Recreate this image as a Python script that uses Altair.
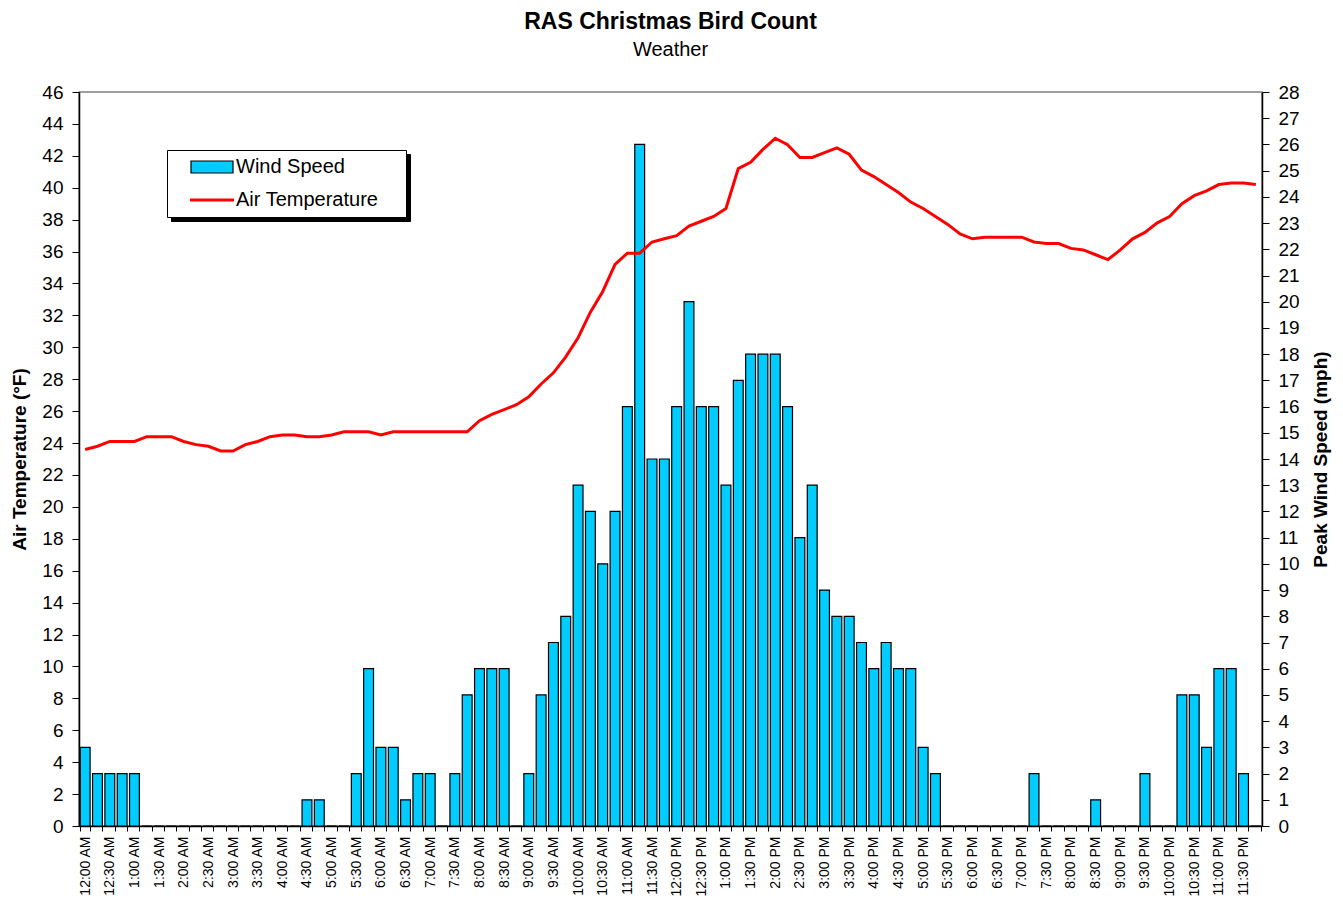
import altair as alt
import pandas as pd

# 15-minute time slots (categories)
times = [f"{(h % 12) or 12}:{m:02d} {'AM' if h < 12 else 'PM'}"
         for h in range(24) for m in (0, 15, 30, 45)]

# Peak wind speed (mph) per slot
wind_speed = [3, 2, 2, 2, 2, 0, 0, 0, 0, 0, 0, 0, 0, 0, 0, 0, 0, 0, 1, 1,
              0, 0, 2, 6, 3, 3, 1, 2, 2, 0, 2, 5, 6, 6, 6, 0, 2, 5, 7, 8,
              13, 12, 10, 12, 16, 26, 14, 14, 16, 20, 16, 16, 13, 17, 18, 18, 18, 16, 11, 13,
              9, 8, 8, 7, 6, 7, 6, 6, 3, 2, 0, 0, 0, 0, 0, 0, 0, 2, 0, 0,
              0, 0, 1, 0, 0, 0, 2, 0, 0, 5, 5, 3, 6, 6, 2, 0]

# Air temperature (F) per slot
air_temp = [23.6, 23.8, 24.1, 24.1, 24.1, 24.4, 24.4, 24.4, 24.1, 23.9,
            23.8, 23.5, 23.5, 23.9, 24.1, 24.4, 24.5, 24.5, 24.4, 24.4,
            24.5, 24.7, 24.7, 24.7, 24.5, 24.7, 24.7, 24.7, 24.7, 24.7,
            24.7, 24.7, 25.4, 25.8, 26.1, 26.4, 26.9, 27.7, 28.4, 29.4,
            30.6, 32.2, 33.5, 35.2, 35.9, 35.9, 36.6, 36.8, 37.0, 37.6,
            37.9, 38.2, 38.7, 41.2, 41.6, 42.4, 43.1, 42.7, 41.9, 41.9,
            42.2, 42.5, 42.1, 41.1, 40.7, 40.2, 39.7, 39.1, 38.7, 38.2,
            37.7, 37.1, 36.8, 36.9, 36.9, 36.9, 36.9, 36.6, 36.5, 36.5,
            36.2, 36.1, 35.8, 35.5, 36.1, 36.8, 37.2, 37.8, 38.2, 39.0,
            39.5, 39.8, 40.2, 40.3, 40.3, 40.2]

series_names = ["Wind Speed", "Air Temperature"]
series_colors = ["#00CCFF", "#FF0000"]
temp_ticks = list(range(0, 47, 2))
wind_ticks = list(range(0, 29))

df = pd.DataFrame({"time": times, "wind": wind_speed, "temp": air_temp,
                   "series": series_names[0], "series_t": series_names[1]})

FONT = "Liberation Sans"
W, H = 1183, 734

label_expr = ("indexof(datum.label, ':15') >= 0 || indexof(datum.label, ':45') >= 0"
              " ? '' : datum.label")

x_enc = alt.X(
    "time:N", sort=times,
    scale=alt.Scale(domain=times, paddingInner=0.2, paddingOuter=0.1),
    axis=alt.Axis(title=None, values=times, labelExpr=label_expr, labelAngle=270,
                  labelFont=FONT, labelFontSize=14, labelColor="black",
                  labelPadding=5, labelOverlap=False, tickBand="extent",
                  tickSize=5, tickColor="black", tickWidth=1,
                  domainColor="black", domainWidth=1.5, grid=False),
)

# main legend box (symbol paths carry a zero-length tail that widens the box)
legend_main = alt.Legend(
    title=None, orient="none", direction="vertical", padding=7,
    legendX=88, legendY=58, strokeColor="black", fillColor="white", zindex=2,
    symbolSize=100,
    symbolType={"expr": "datum.value == 'Wind Speed' ? "
                        "'M-4.2,-1.2H4.2V1.2H-4.2ZM36.2,0L36.2,0' : 'M-4.4,0H4.4M36.2,0L36.2,0'"},
    symbolStrokeColor={"expr": "datum.value == 'Wind Speed' ? 'black' : '#FF0000'"},
    symbolStrokeWidth={"expr": "datum.value == 'Wind Speed' ? 1.2 : 3"},
    symbolOffset=28, labelOffset=14, rowPadding=13,
    labelFont=FONT, labelFontSize=20, labelLimit=400, labelColor="black",
)

# drop shadow behind the legend box
legend_shadow = alt.Legend(
    title=None, orient="none", direction="vertical", padding=7,
    legendX=92, legendY=62, strokeColor="black", fillColor="black", zindex=1,
    symbolSize=100, symbolType="M-2,-1.9H43.4V1.9H-2Z",
    symbolStrokeColor="black", symbolFillColor="black", symbolStrokeWidth=1,
    symbolOffset=0, labelOffset=0, rowPadding=13,
    labelExpr="''", labelFontSize=1,
)

bars = alt.Chart(df).mark_bar(stroke="black", strokeWidth=1.2).encode(
    x=x_enc,
    y=alt.Y("wind:Q", scale=alt.Scale(domain=[0, 28], nice=False, zero=True),
            axis=alt.Axis(orient="right", values=wind_ticks,
                          title="Peak Wind Speed (mph)", titleAngle=270,
                          titleBaseline="top",
                          titleFont=FONT, titleFontSize=19, titleFontWeight="bold",
                          titleColor="black", titlePadding=12,
                          labelFont=FONT, labelFontSize=19, labelColor="black",
                          labelPadding=9, tickSize=7, tickColor="black",
                          domainColor="black", domainWidth=1.5, grid=False)),
    fill=alt.Fill("series:N", scale=alt.Scale(domain=series_names, range=series_colors),
                  legend=legend_main),
)

line = alt.Chart(df).mark_line(color="#FF0000", strokeWidth=3).encode(
    x=x_enc,
    y=alt.Y("temp:Q", scale=alt.Scale(domain=[0, 46], nice=False, zero=True),
            axis=alt.Axis(orient="left", values=temp_ticks,
                          title="Air Temperature (°F)",
                          titleFont=FONT, titleFontSize=19, titleFontWeight="bold",
                          titleColor="black", titlePadding=12,
                          labelFont=FONT, labelFontSize=19, labelColor="black",
                          labelPadding=9, tickSize=7, tickColor="black",
                          domainColor="black", domainWidth=1.5, grid=False)),
    opacity=alt.Opacity("series_t:N",
                        scale=alt.Scale(domain=series_names[::-1], range=[1, 1]),
                        legend=legend_shadow),
)

chart = alt.layer(bars, line).resolve_scale(y="independent").properties(
    width=W, height=H,
    title=alt.Title("RAS Christmas Bird Count", subtitle="Weather",
                    font=FONT, fontSize=23, fontWeight="bold", color="black",
                    subtitleFont=FONT, subtitleFontSize=20, subtitleColor="black",
                    subtitlePadding=6, anchor="middle", offset=23.5),
    padding={"left": 71, "top": 84, "right": 70, "bottom": 72},
    autosize=alt.AutoSizeParams(type="none"),
).configure(font=FONT).configure_view(stroke="#808080", strokeWidth=1.5)

chart.save("out.html", embed_options={"renderer": "svg", "actions": False})
